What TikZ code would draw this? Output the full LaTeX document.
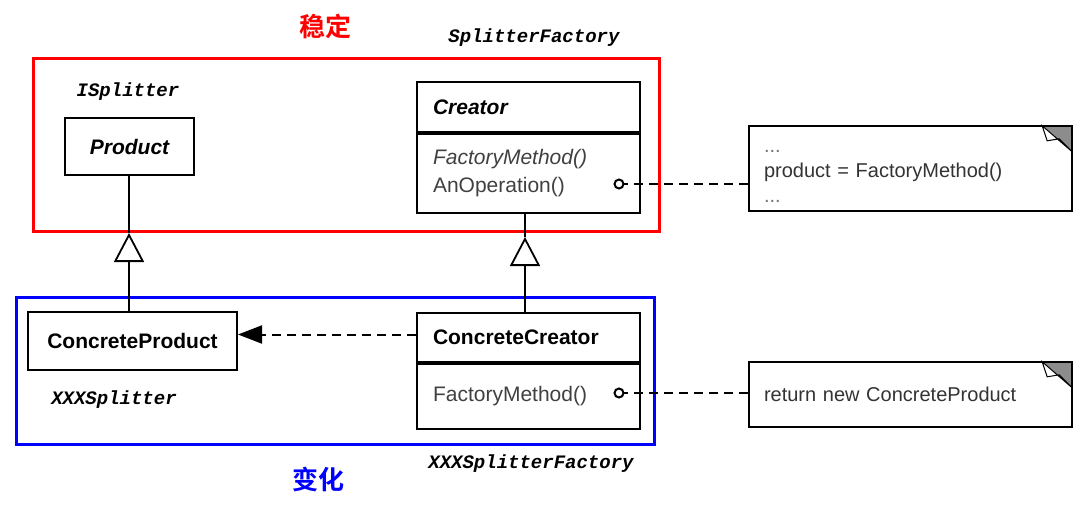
\documentclass[tikz,border=0pt]{standalone}
\usepackage{fontspec}
\setmainfont{Liberation Sans}
\newfontfamily\labelfont{Liberation Mono}
\newfontfamily\cjk{Noto Sans CJK SC}[BoldFont={Noto Sans CJK SC Bold}]
\usetikzlibrary{arrows.meta,positioning,calc}

\begin{document}
\begin{tikzpicture}[
    x=1pt, y=-1pt,
    font=\fontsize{21}{25}\selectfont,
    cls/.style={rectangle, draw, line width=2pt, inner sep=0pt, inner xsep=16pt, minimum width=223pt, text width=191pt, align=left},
    head/.style={font=\fontsize{21}{25}\selectfont\bfseries},
    ops/.style={font=\fontsize{21}{28}\selectfont, text=black!75},
    plain/.style={rectangle, draw, line width=2pt, inner sep=0pt, font=\fontsize{21}{25}\selectfont\bfseries},
    note/.style={rectangle, inner sep=0pt, inner xsep=15pt, minimum width=323pt, text width=293pt, align=left, text=black!80, font=\fontsize{20}{25}\selectfont},
    tag/.style={font=\labelfont\bfseries\itshape\fontsize{19}{22}\selectfont},
    zone/.style={rectangle, draw, line width=3pt},
    zonetext/.style={font=\cjk\bfseries\fontsize{26}{30}\selectfont},
    link/.style={line width=2pt},
    inherit/.style={line width=2pt, -{Triangle[open, length=29pt, width=30pt, line width=1.8pt]}},
    creates/.style={line width=2pt, dash pattern=on 9pt off 6pt, -{Triangle[length=24pt, width=18pt]}},
    pin/.style={line width=2pt, dash pattern=on 9pt off 6pt}
]
\useasboundingbox (0,0) rectangle (1090,517);

% Stable / changing zones
\node[zone, red, minimum width=626pt, minimum height=173pt] (stable) at (346,144.5) {};
\node[zone, blue, minimum width=638pt, minimum height=147pt] (changing) at (335,370.5) {};
\node[zonetext, text=red] (stabletext) at (325,27) {稳定};
\node[zonetext, text=blue] (changetext) at (318,479) {变化};

% Classes
\node[plain, minimum width=129pt, minimum height=57pt] (product) at (129.5,146.5) {\itshape Product};
\node[plain, minimum width=209pt, minimum height=58pt] (cproduct) at (132.5,341) {ConcreteProduct};
\node[cls, head, minimum height=50pt] (creator) at (528.5,107) {\itshape Creator};
\node[cls, ops, minimum height=79pt, below=0pt of creator] (creatorops) {\textit{FactoryMethod()}\\AnOperation()};
\node[cls, head, minimum height=49pt] (ccreator) at (528.5,337.5) {ConcreteCreator};
\node[cls, ops, minimum height=65pt, below=0pt of ccreator] (ccreatorops) {FactoryMethod()};

% Code names
\node[tag] (isplitter) at (128,92) {ISplitter};
\node[tag] (splitterfactory) at (534,38) {SplitterFactory};
\node[tag] (xxxsplitter) at (114,400) {XXXSplitter};
\node[tag] (xxxfactory) at (531,464) {XXXSplitterFactory};

% Notes
\node[note, minimum height=85pt] (codenote) at (910.5,168.5) {\strut{\color{black!55}...}\\product = FactoryMethod()\\{\color{black!55}...}};
\node[note, minimum height=65pt] (returnnote) at (910.5,394.5) {return new ConcreteProduct};
\foreach \n in {codenote, returnnote} {
    \fill[black!45] ($(\n.north east)+(-30,0)$) -- (\n.north east) -- ($(\n.north east)+(0,26)$) -- cycle;
    \draw[line width=1pt, fill=white] ($(\n.north east)+(-30,0)$) -- ($(\n.north east)+(-25,15)$)
        -- ($(\n.north east)+(-13,13)$) -- ($(\n.north east)+(0,26)$) -- cycle;
    \draw[line width=2pt] (\n.north west) rectangle (\n.south east);
}

% Inheritance
\coordinate (prodtip) at (129,233);
\coordinate (creatortip) at (525,237);
\draw[link] (product.south -| prodtip) -- (prodtip);
\draw[inherit] (cproduct.north -| prodtip) -- (prodtip);
\draw[link] (creatorops.south -| creatortip) -- (creatortip);
\draw[inherit] (ccreator.north -| creatortip) -- (creatortip);

% Creation
\draw[creates] ([yshift=3pt]ccreator.west) -- ([yshift=3pt]ccreator.west -| cproduct.east);

% Note anchors
\coordinate (opdot) at (619,184);
\coordinate (fmdot) at (619,393);
\draw[pin] (opdot) -- (opdot -| codenote.west);
\draw[pin] (fmdot) -- (fmdot -| returnnote.west);
\draw[link, fill=white] (opdot) circle (4.5pt);
\draw[link, fill=white] (fmdot) circle (4.5pt);

\end{tikzpicture}
\end{document}
